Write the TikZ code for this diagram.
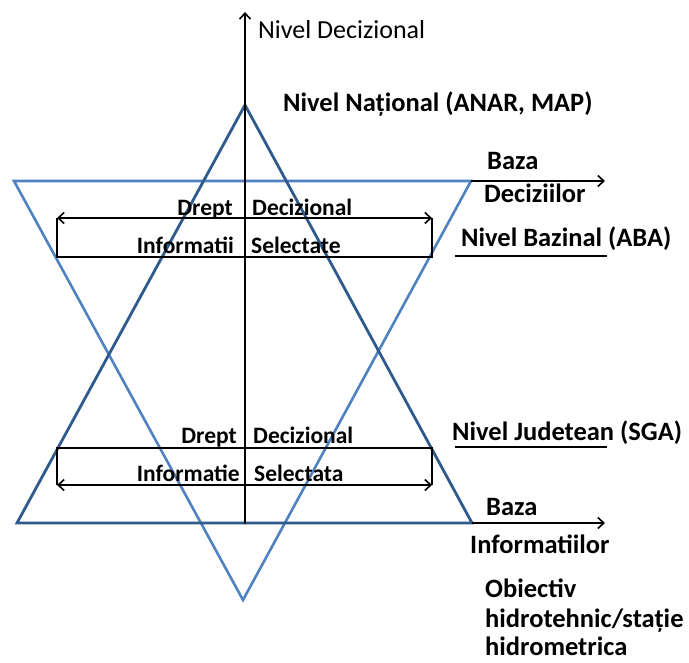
\documentclass[tikz,border=0pt]{standalone}
\usepackage{fontspec}
\setmainfont{Carlito}
\usetikzlibrary{arrows.meta}
\definecolor{darkbl}{HTML}{2E5A8C}
\definecolor{lightbl}{HTML}{4F82BE}
\begin{document}
\begin{tikzpicture}[x=1pt,y=-1pt,
  lbl/.style={inner sep=0pt, font=\fontsize{26}{30}\selectfont},
  blbl/.style={inner sep=0pt, font=\bfseries\fontsize{26.5}{30}\selectfont},
  ilbl/.style={inner sep=0pt, font=\bfseries\fontsize{23.5}{27}\selectfont},
  tip/.style={-{Straight Barb[length=6pt,width=11pt,line width=1.6pt]}},
  dtip/.style={{Straight Barb[length=6pt,width=11pt,line width=1.6pt]}-{Straight Barb[length=6pt,width=11pt,line width=1.6pt]}},
  axisline/.style={line width=2.4pt, black},
  bline/.style={line width=1.8pt, black},
  tri1/.style={line width=2.8pt, darkbl, line join=miter},
  tri2/.style={line width=2.6pt, lightbl, line join=miter}]
\useasboundingbox (0,0) rectangle (689,663);
% triangles
\coordinate (uA) at (245,105);
\coordinate (uL) at (17,523);
\coordinate (uR) at (472,523);
\coordinate (dL) at (14,181);
\coordinate (dR) at (471,181);
\coordinate (dB) at (243,600);
\draw[tri2] (dL) -- (dR) -- (dB) -- cycle;
\draw[tri1] (uA) -- (uL) -- (uR) -- cycle;
% axis
\coordinate (ax0) at (245,524);
\coordinate (ax1) at (245,12);
\draw[axisline, tip] (ax0) -- (ax1);
% base arrows
\coordinate (bd) at (605,181);
\coordinate (bi) at (605,523);
\draw[bline, tip] (dR) -- (bd);
\draw[bline, tip] (uR) -- (bi);
% upper box
\coordinate (u1) at (57,218);
\coordinate (u2) at (432,218);
\coordinate (u3) at (432,257);
\coordinate (u4) at (57,257);
\draw[bline, dtip] (u1) -- (u2);
\draw[bline] (u1) -- (u4) -- (u3) -- (u2);
% lower box
\coordinate (l1) at (57,448);
\coordinate (l2) at (432,448);
\coordinate (l3) at (432,485);
\coordinate (l4) at (57,485);
\draw[bline, dtip] (l4) -- (l3);
\draw[bline] (l4) -- (l1) -- (l2) -- (l3);
% labels
\node[lbl, anchor=base west] (nd) at (258,39) {Nivel Decizional};
\node[blbl, anchor=base west] (nn) at (283,112) {Nivel Național (ANAR, MAP)};
\node[blbl, anchor=base west] (bz1) at (487,170) {Baza};
\node[blbl, anchor=base west] (dz) at (484,203) {Deciziilor};
\node[blbl, anchor=base west] (nb) at (461,247) {Nivel Bazinal (ABA)};
\coordinate (ub1) at (455,256);
\coordinate (ub2) at (607,256);
\draw[bline] (ub1) -- (ub2);
\node[ilbl, anchor=base east] (dr1) at (233,216) {Drept};
\node[ilbl, anchor=base west] (dc1) at (252,216) {Decizional};
\node[ilbl, anchor=base east] (if1) at (234,254) {Informatii};
\node[ilbl, anchor=base west] (sl1) at (251,254) {Selectate};
\node[ilbl, anchor=base east] (dr2) at (237,443) {Drept};
\node[ilbl, anchor=base west] (dc2) at (253,443) {Decizional};
\node[ilbl, anchor=base east] (if2) at (240,481) {Informatie};
\node[ilbl, anchor=base west] (sl2) at (254,481) {Selectata};
\node[blbl, anchor=base west] (nj) at (452,440) {Nivel Judetean (SGA)};
\coordinate (uj1) at (455,447);
\coordinate (uj2) at (607,447);
\draw[bline] (uj1) -- (uj2);
\node[blbl, anchor=base west] (bz2) at (486,515) {Baza};
\node[blbl, anchor=base west] (inf) at (470,553) {Informatiilor};
\node[blbl, anchor=base west] (ob) at (485,597) {Obiectiv};
\node[blbl, anchor=base west] (hd) at (485,627) {hidrotehnic/stație};
\node[blbl, anchor=base west] (hm) at (485,655) {hidrometrica};
\end{tikzpicture}
\end{document}
